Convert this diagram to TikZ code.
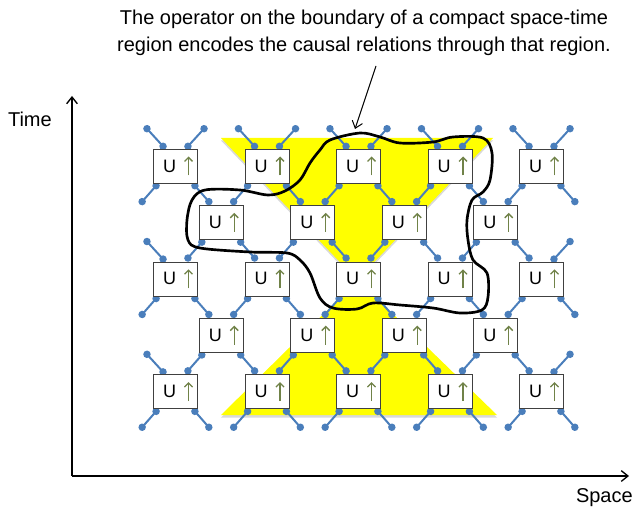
\documentclass[tikz,border=0pt]{standalone}
\usepackage{fontspec}
\setmainfont{Liberation Sans}
\usepackage{tikz}
\usetikzlibrary{positioning}
\usetikzlibrary{calc}
\usetikzlibrary{arrows.meta}
\definecolor{legblue}{RGB}{74,126,187}
\definecolor{upgreen}{RGB}{112,130,72}
\definecolor{boxgray}{RGB}{64,64,64}
\definecolor{cone}{RGB}{255,255,0}

\begin{document}
\begin{tikzpicture}[
            x = 0.75pt, y = -0.75pt, % pixel grid, y going down
            > = {Straight Barb[length=5pt,width=8pt]}, % arrow head style
            font = \fontsize{15}{20}\selectfont
        ]

        \tikzstyle{ubox}=[
            draw = boxgray,
            thin,
            fill = white,
            minimum width = 33pt,
            minimum height = 25.5pt,
            inner sep = 0pt
        ]
        \tikzstyle{ulabel}=[inner sep = 0pt, font = \fontsize{13.5}{13.5}\selectfont]
        \tikzstyle{leg}=[legblue, line width = 1.5pt, {Circle[length=5.5pt]}-{Circle[length=5.5pt]}]
        \tikzstyle{uarrow}=[upgreen, line width = 1pt, -{Straight Barb[length=3pt,width=6pt]}]

        \useasboundingbox (0,0) rectangle (634,509);

        % light cones
        \fill[black!15] (221,140.5) -- (493,140.5) -- (357,282.5) -- cycle;
        \fill[black!15] (358,282.5) -- (221,417.5) -- (497,417.5) -- cycle;
        \fill[cone] (221,138) -- (493,138) -- (357,280) -- cycle;
        \fill[cone] (358,280) -- (221,415) -- (497,415) -- cycle;

        % wires of the lattice
        \foreach \r in {1,...,5}{
          \foreach \i in {0,...,8}{
            \pgfmathtruncatemacro{\isbox}{mod(\i+\r,2)}
            \ifnum\isbox=1
              \coordinate (c-\i-\r) at ({175.5+45.75*\i},{166+56.4*(\r-1)});
              \draw[leg] ($(c-\i-\r)+(-17,17)$) -- ($(c-\i-\r)+(-35.75,38.4)$);
              \draw[leg] ($(c-\i-\r)+(17,17)$) -- ($(c-\i-\r)+(35.75,38.4)$);
              \pgfmathtruncatemacro{\freel}{(\r==1)||(\i==0)}
              \pgfmathtruncatemacro{\freer}{(\r==1)||(\i==8)}
              \ifnum\freel=1
                \draw[leg] ($(c-\i-\r)+(-10,-17)$) -- ($(c-\i-\r)+(-31,-40)$);
              \fi
              \ifnum\freer=1
                \draw[leg] ($(c-\i-\r)+(10,-17)$) -- ($(c-\i-\r)+(31,-40)$);
              \fi
            \fi
          }
        }

        % gates
        \foreach \r in {1,...,5}{
          \foreach \i in {0,...,8}{
            \pgfmathtruncatemacro{\isbox}{mod(\i+\r,2)}
            \ifnum\isbox=1
              \node[ubox] (u-\i-\r) at (c-\i-\r) {};
              \node[ulabel] (t-\i-\r) at ($(u-\i-\r)+(-6,0)$) {U};
              \draw[uarrow] ($(u-\i-\r)+(13,9.5)$) -- ($(u-\i-\r)+(13,-9.5)$);
            \fi
          }
        }

        % boundary of the region
        \draw[line width = 2pt, line join = round] plot[smooth cycle, tension = 0.55] coordinates {
            (330,140) (360,133) (380,137) (400,143) (433,142) (453,137) (483,138)
            (492,153) (490,180) (483,192) (472,200) (467,220) (468,240) (473,260)
            (487,273) (488,297) (482,310) (460,313) (433,308) (400,305) (373,303)
            (357,309) (333,308) (320,298) (310,273) (300,260) (287,253) (250,252)
            (200,248) (188,240) (187,220) (192,200) (205,190) (240,190) (268,195)
            (285,191) (300,180) (310,163) (320,150)};

        % note
        \node (note) [align = center] at (364,33) {The operator on the boundary of a compact space-time\\region encodes the causal relations through that region.};
        \coordinate (tail) at (376,66);
        \coordinate (tip) at (355,129);
        \draw[->, line width = 0.75pt] (tail) -- (tip);

        % axes
        \coordinate (origin) at (72,476);
        \coordinate (tend) at (72,96);
        \coordinate (send) at (629,476);
        \draw[->, line width = 1pt] (origin) -- (tend);
        \draw[->, line width = 1pt] (origin) -- (send);
        \node (time) [below left = 12pt and 15pt of tend, inner sep = 0pt] {Time};
        \node (space) [below left = 9.5pt and -3pt of send, inner sep = 0pt] {Space};

\end{tikzpicture}
\end{document}
